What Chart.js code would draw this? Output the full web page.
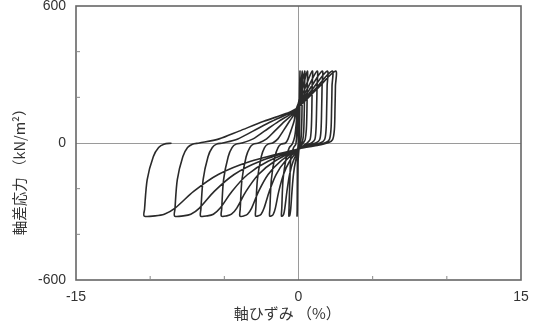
<!DOCTYPE html>
<html><head><meta charset="utf-8">
<script src="https://cdn.jsdelivr.net/npm/chart.js"></script>
<style>html,body{margin:0;padding:0;background:#fff;}canvas{display:block;}</style>
</head><body>
<canvas id="c" width="538" height="332"></canvas>
<script>
const xTickLabels = [-15, 0, 15];
const yTickLabels = [-600, 0, 600];
const xTickMarks = [-10, -5, 5, 10];
const yTickMarks = [-400, -200, 200, 400];
const xTitle = '軸ひずみ （%）\u3000\u3000';
const yTitle = '軸差応力 （kN/m²）\u3000\u3000\u3000\u3000';

// [axial strain (%), deviator stress (kN/m2)] - one list per loading cycle
const loop01 = [[0,0],[0.03,80],[0.06,180],[0.1,315],[0.09,220],[0.08,100],[0.06,20],[0.04,-20],[-0.03,-80],[-0.05,-138],[-0.07,-212],[-0.08,-285],[-0.09,-312],[-0.095,-319],[-0.1,-320]];
const loop02 = [[-0.09,-290],[-0.08,-160],[-0.07,-60],[-0.04,-20],[-0.02,-5],[-0.01,60],[0,150],[0.13,232],[0.26,315],[0.25,230],[0.23,120],[0.19,35],[0.13,0],[0.05,-23],[-0.2,-80],[-0.34,-138],[-0.44,-212],[-0.52,-285],[-0.57,-312],[-0.6,-319],[-0.65,-320]];
const loop03 = [[-0.64,-290],[-0.58,-160],[-0.51,-60],[-0.33,-20],[-0.18,-5],[-0.1,60],[-0.06,150],[0.18,232],[0.42,315],[0.41,240],[0.39,140],[0.35,50],[0.28,10],[0.17,-8],[0.05,-24],[-0.36,-80],[-0.6,-138],[-0.78,-212],[-0.92,-285],[-1.0,-312],[-1.07,-319],[-1.15,-320]];
const loop04 = [[-1.13,-290],[-1.04,-160],[-0.81,-60],[-0.62,-20],[-0.42,-5],[-0.25,30],[-0.15,90],[-0.1,150],[0.25,232],[0.6,315],[0.59,250],[0.57,150],[0.53,60],[0.45,15],[0.32,0],[0.18,-10],[0.05,-25],[-0.6,-80],[-1.01,-138],[-1.33,-212],[-1.56,-285],[-1.7,-312],[-1.81,-319],[-1.95,-320]];
const loop05 = [[-1.93,-290],[-1.83,-160],[-1.59,-60],[-1.38,-20],[-1.17,-5],[-0.87,0],[-0.7,18],[-0.52,52],[-0.3,95],[-0.15,150],[0.39,232],[0.93,315],[0.92,250],[0.9,150],[0.86,60],[0.78,15],[0.6,1],[0.35,-10],[0.05,-25],[-0.9,-80],[-1.51,-138],[-1.97,-212],[-2.32,-285],[-2.52,-312],[-2.7,-319],[-2.9,-320]];
const loop06 = [[-2.88,-290],[-2.77,-160],[-2.51,-60],[-2.29,-20],[-2.06,-5],[-1.74,0],[-1.39,18],[-1.04,52],[-0.61,95],[-0.25,130],[-0.15,150],[0.55,232],[1.26,315],[1.25,250],[1.22,150],[1.18,60],[1.1,15],[0.9,1],[0.5,-10],[0.05,-25],[-1.22,-80],[-2.05,-138],[-2.69,-212],[-3.16,-285],[-3.44,-312],[-3.67,-319],[-3.95,-320]];
const loop07 = [[-3.93,-290],[-3.81,-160],[-3.53,-60],[-3.28,-20],[-3.04,-5],[-2.69,0],[-2.15,18],[-1.61,52],[-0.94,95],[-0.32,130],[-0.15,150],[0.72,232],[1.6,315],[1.59,250],[1.56,150],[1.52,60],[1.43,15],[1.2,1],[0.65,-11],[0.05,-25],[-1.61,-80],[-2.7,-138],[-3.54,-212],[-4.16,-285],[-4.52,-312],[-4.84,-319],[-5.2,-320]];
const loop08 = [[-5.18,-290],[-5.05,-160],[-4.74,-60],[-4.48,-20],[-4.21,-5],[-3.83,0],[-3.06,18],[-2.3,52],[-1.34,95],[-0.46,130],[-0.15,150],[0.9,232],[1.94,315],[1.93,250],[1.9,150],[1.86,60],[1.76,15],[1.5,1],[0.8,-12],[0.05,-25],[-2.05,-80],[-3.43,-138],[-4.49,-212],[-5.28,-285],[-5.74,-312],[-6.14,-319],[-6.6,-320]];
const loop09 = [[-6.58,-290],[-6.43,-160],[-6.1,-60],[-5.81,-20],[-5.52,-5],[-5.11,0],[-4.09,18],[-3.07,52],[-1.79,95],[-0.61,130],[-0.15,150],[1.06,232],[2.27,315],[2.26,250],[2.23,150],[2.19,60],[2.08,15],[1.8,1],[0.95,-13],[0.05,-25],[-2.59,-80],[-4.34,-138],[-5.68,-212],[-6.68,-285],[-7.26,-312],[-7.77,-319],[-8.35,-320]];
const loop10 = [[-8.33,-290],[-8.17,-160],[-7.8,-60],[-7.48,-20],[-7.15,-5],[-6.69,0],[-5.35,18],[-4.01,52],[-2.34,95],[-0.8,130],[-0.15,150],[1.18,232],[2.5,315],[2.49,250],[2.46,150],[2.42,60],[2.3,15],[2.0,1],[1.05,-13],[0.05,-25],[-3.22,-80],[-5.41,-138],[-7.07,-212],[-8.32,-285],[-9.05,-312],[-9.67,-319],[-10.4,-320]];
const loopEnd = [[-10.38,-290],[-10.2,-160],[-9.79,-60],[-9.43,-20],[-9.07,-5],[-8.56,-1]];

const cycles = [loop01, loop02, loop03, loop04, loop05, loop06, loop07, loop08, loop09, loop10, loopEnd];
const pathData = [];
cycles.forEach(c => c.forEach(p => pathData.push({x: p[0], y: p[1]})));

const framePlugin = {
  id: 'frame',
  afterDatasetsDraw(chart) {
    const {ctx, chartArea: a, scales: {x, y}} = chart;
    ctx.save();
    ctx.strokeStyle = '#666';
    ctx.lineWidth = 1.6;
    ctx.strokeRect(a.left, a.top, a.right - a.left, a.bottom - a.top);
    ctx.strokeStyle = '#888';
    ctx.lineWidth = 1;
    ctx.beginPath();
    xTickMarks.forEach(v => { const px = x.getPixelForValue(v); ctx.moveTo(px, a.bottom); ctx.lineTo(px, a.bottom - 4); });
    yTickMarks.forEach(v => { const py = y.getPixelForValue(v); ctx.moveTo(a.left, py); ctx.lineTo(a.left + 4, py); });
    ctx.stroke();
    ctx.restore();
  }
};

const tickFont = {family: "'Liberation Sans', Arial, sans-serif", size: 14};

new Chart(document.getElementById('c'), {
  type: 'line',
  data: {
    datasets: [{
      data: pathData,
      borderColor: '#2a2a2a',
      borderWidth: 1.6,
      pointRadius: 0,
      tension: 0.3,
      fill: false
    }]
  },
  options: {
    responsive: false,
    animation: false,
    devicePixelRatio: 1,
    layout: {padding: {top: 0, right: 17, left: 0, bottom: 0}},
    plugins: {legend: {display: false}, tooltip: {enabled: false}},
    scales: {
      x: {
        type: 'linear', min: -15, max: 15,
        afterBuildTicks: s => { s.ticks = xTickLabels.map(v => ({value: v})); },
        afterFit: s => { s.height = 52; },
        ticks: {font: tickFont, color: '#333', padding: 9, maxRotation: 0, autoSkip: false},
        grid: {drawTicks: false, color: c => (c.tick && c.tick.value === 0) ? '#9a9a9a' : 'rgba(0,0,0,0)', lineWidth: 1},
        border: {display: false},
        title: {display: true, text: xTitle, font: {family: "'Noto Sans CJK JP', sans-serif", size: 15}, color: '#333', padding: {top: 0, bottom: 10}}
      },
      y: {
        type: 'linear', min: -600, max: 600,
        afterBuildTicks: s => { s.ticks = yTickLabels.map(v => ({value: v})); },
        afterFit: s => { s.width = 76; s.paddingTop = 6; s.paddingBottom = 0; },
        ticks: {font: tickFont, color: '#333', padding: 10},
        grid: {drawTicks: false, color: c => (c.tick && c.tick.value === 0) ? '#9a9a9a' : 'rgba(0,0,0,0)', lineWidth: 1},
        border: {display: false},
        title: {display: true, text: yTitle, font: {family: "'Noto Sans CJK JP', sans-serif", size: 14.5}, color: '#333', padding: {top: 11, bottom: 0}}
      }
    }
  },
  plugins: [framePlugin]
});
</script>
</body></html>
